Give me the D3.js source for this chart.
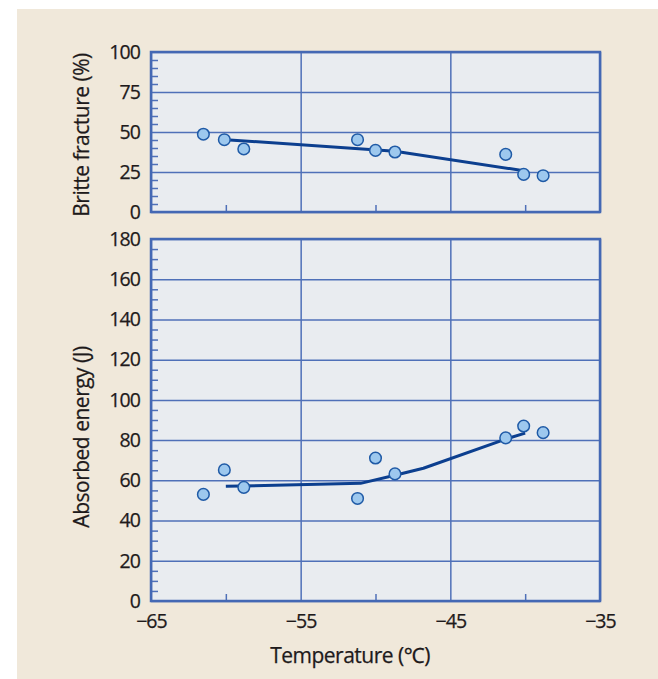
<!DOCTYPE html>
<html>
<head>
<meta charset="utf-8">
<script src="https://cdn.jsdelivr.net/npm/d3@7"></script>
<style>
  html, body { margin: 0; padding: 0; background: #ffffff; }
  svg { display: block; }
  text { font-family: "Open Sans", "Noto Sans", sans-serif; fill: #1e1a1b; }
</style>
</head>
<body>
<svg id="chart" width="658" height="679"></svg>
<script>
// ---- data ----
const temperatures = [-61.5, -60.1, -58.8, -51.2, -50.0, -48.7, -41.3, -40.1, -38.8];
const brittleFracture = [48.6, 45.2, 39.4, 45.2, 38.5, 37.5, 36.0, 23.5, 22.7];
const absorbedEnergy = [53.0, 65.2, 56.5, 51.0, 71.1, 63.2, 81.1, 87.0, 83.7];

const brittleFitTemps = [-60.0, -48.7, -40.1];
const brittleFitValues = [45.2, 38.0, 25.8];
const energyFitTemps = [-60.0, -51.0, -48.7, -46.8, -41.3, -40.0];
const energyFitValues = [57.0, 58.5, 62.5, 66.0, 80.5, 83.5];

const xTicks = [-65, -55, -45, -35];
const xMinorTicks = [-60, -50, -40];
const brittleTicks = [0, 25, 50, 75, 100];
const energyTicks = [0, 20, 40, 60, 80, 100, 120, 140, 160, 180];

const xTitle = "Temperature (\u2103)";
const brittleTitle = "Britte fracture (%)";
const energyTitle = "Absorbed energy (J)";

// ---- styles ----
const C = {
  page: "#f0e8da",
  plot: "#e9ecf0",
  grid: "#4f70b8",
  frame: "#4468b4",
  line: "#0c3f8f",
  dotFill: "#9dc8ee",
  dotStroke: "#1f5aa6",
  text: "#1e1a1b"
};
const FONT = '"Open Sans", "Noto Sans", sans-serif';

const svg = d3.select("#chart");
svg.append("rect").attr("x", 17).attr("y", 9).attr("width", 641).attr("height", 670).attr("fill", C.page);

const x = d3.scaleLinear().domain([-65, -35]).range([151, 600]);
const fmt = d => d < 0 ? "\u2212" + Math.abs(d) : String(d);

function styleText(sel, size, ls) {
  sel.attr("font-size", size).attr("fill", C.text).attr("font-family", FONT)
     .attr("letter-spacing", ls).attr("stroke", C.text).attr("stroke-width", 0.25);
}

function panel(yDomain, yRange, ticks, minorStep, values, fitT, fitV, title, titleCenter, showX) {
  const y = d3.scaleLinear().domain(yDomain).range(yRange);
  const g = svg.append("g");
  const [x0, x1] = x.range();
  const [yb, yt] = yRange;

  g.append("rect").attr("x", x0).attr("y", yt).attr("width", x1 - x0).attr("height", yb - yt).attr("fill", C.plot);

  g.append("g").attr("transform", `translate(${x0},0)`)
    .call(d3.axisLeft(y).tickValues(ticks).tickSize(-(x1 - x0)).tickFormat(""))
    .call(a => a.select(".domain").remove())
    .call(a => a.selectAll("line").attr("stroke", C.grid).attr("stroke-width", 1.5));
  g.append("g").attr("transform", `translate(0,${yb})`)
    .call(d3.axisBottom(x).tickValues(xTicks).tickSize(-(yb - yt)).tickFormat(""))
    .call(a => a.select(".domain").remove())
    .call(a => a.selectAll("line").attr("stroke", C.grid).attr("stroke-width", 1.5));

  const minor = d3.range(yDomain[0], yDomain[1] + 0.001, minorStep).filter(v => !ticks.includes(v));
  g.append("g").attr("transform", `translate(${x0},0)`)
    .call(d3.axisRight(y).tickValues(minor).tickSize(7).tickFormat(""))
    .call(a => a.select(".domain").remove())
    .call(a => a.selectAll("line").attr("stroke", C.grid).attr("stroke-width", 1.5));
  g.append("g").attr("transform", `translate(0,${yb})`)
    .call(d3.axisTop(x).tickValues(xMinorTicks).tickSize(7).tickFormat(""))
    .call(a => a.select(".domain").remove())
    .call(a => a.selectAll("line").attr("stroke", C.grid).attr("stroke-width", 1.5));

  g.append("rect").attr("x", x0).attr("y", yt).attr("width", x1 - x0).attr("height", yb - yt)
    .attr("fill", "none").attr("stroke", C.frame).attr("stroke-width", 2.5);

  g.append("g").attr("transform", `translate(${x0},0)`)
    .call(d3.axisLeft(y).tickValues(ticks).tickSize(0).tickPadding(11).tickFormat(fmt))
    .call(a => a.select(".domain").remove())
    .call(a => styleText(a.selectAll("text"), 19.5, -0.9));

  if (showX) {
    g.append("g").attr("transform", `translate(0,${yb})`)
      .call(d3.axisBottom(x).tickValues(xTicks).tickSize(0).tickPadding(13).tickFormat(fmt))
      .call(a => a.select(".domain").remove())
      .call(a => styleText(a.selectAll("text"), 19.5, -0.9));
  }

  const lineData = fitT.map((t, i) => [t, fitV[i]]);
  g.append("path").datum(lineData)
    .attr("d", d3.line().x(d => x(d[0])).y(d => y(d[1])))
    .attr("fill", "none").attr("stroke", C.line).attr("stroke-width", 3).attr("stroke-linejoin", "round");

  g.selectAll("circle.pt").data(temperatures.map((t, i) => [t, values[i]])).join("circle")
    .attr("class", "pt")
    .attr("cx", d => x(d[0])).attr("cy", d => y(d[1])).attr("r", 5.8)
    .attr("fill", C.dotFill).attr("stroke", C.dotStroke).attr("stroke-width", 1.5);

  const t = svg.append("text")
    .attr("transform", `translate(89,${titleCenter}) rotate(-90)`)
    .attr("text-anchor", "middle")
    .text(title);
  styleText(t, 21, -0.5);
}

panel([0, 100], [212, 52], brittleTicks, 5, brittleFracture, brittleFitTemps, brittleFitValues, brittleTitle, 135, false);
panel([0, 180], [601, 239], energyTicks, 5, absorbedEnergy, energyFitTemps, energyFitValues, energyTitle, 437, true);

const xt = svg.append("text")
  .attr("x", 350).attr("y", 663)
  .attr("text-anchor", "middle")
  .text(xTitle);
styleText(xt, 21, -0.5);
</script>
</body>
</html>
